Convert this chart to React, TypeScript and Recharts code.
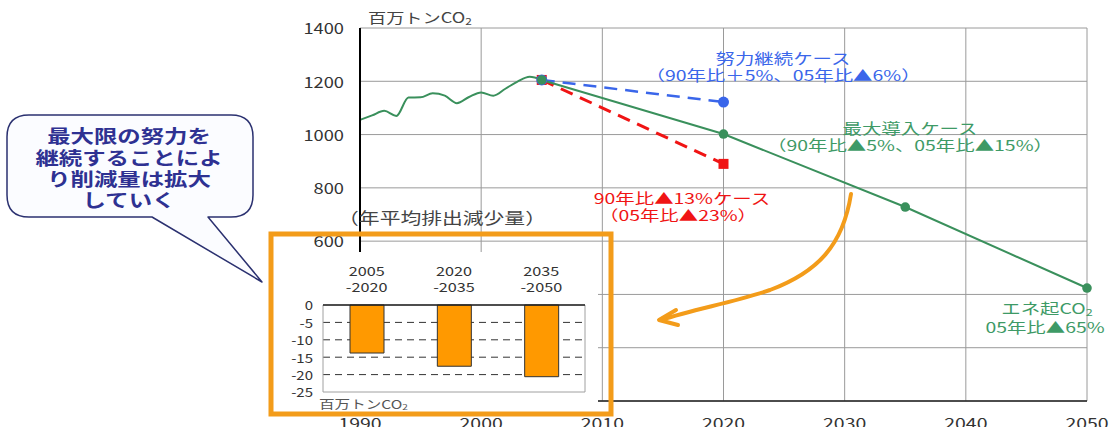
import React from "react";
import {
  LineChart,
  Line,
  XAxis,
  YAxis,
  CartesianGrid,
  BarChart,
  Bar,
  ReferenceLine,
  ReferenceArea,
} from "recharts";

// Energy-related CO2 emissions, actual (Mt-CO2)
const histYears = [1990, 1991, 1992, 1993, 1994, 1995, 1996, 1997, 1998, 1999, 2000, 2001, 2002, 2003, 2004, 2005];
const histValues = [1055, 1072, 1089, 1070, 1139, 1140, 1155, 1146, 1118, 1141, 1158, 1146, 1172, 1199, 1217, 1205];

// Projection cases
const maxYears = [2005, 2020, 2035, 2050];
const maxValues = [1205, 1002, 728, 424];
const effortYears = [2005, 2020];
const effortValues = [1205, 1122];
const cut13Years = [2005, 2020];
const cut13Values = [1205, 890];

// Axis ticks
const xTicks = [1990, 2000, 2010, 2020, 2030, 2040, 2050];
const yTicks = [0, 200, 400, 600, 800, 1000, 1200, 1400];

// Inset: average annual reduction (Mt-CO2 / year)
const periodStart = ["2005", "2020", "2035"];
const periodEnd = ["-2020", "-2035", "-2050"];
const annualReduction = [-13.8, -17.6, -20.6];
const insetTicks = [0, -5, -10, -15, -20, -25];
const insetGrid = [-5, -10, -15, -20];

type Row = { year: number; hist?: number; maxIntro?: number; effort?: number; cut13?: number };

const rowMap = new Map<number, Row>();
const rowFor = (y: number) => {
  if (!rowMap.has(y)) rowMap.set(y, { year: y });
  return rowMap.get(y)!;
};
histYears.forEach((y, i) => (rowFor(y).hist = histValues[i]));
maxYears.forEach((y, i) => (rowFor(y).maxIntro = maxValues[i]));
effortYears.forEach((y, i) => (rowFor(y).effort = effortValues[i]));
cut13Years.forEach((y, i) => (rowFor(y).cut13 = cut13Values[i]));
const mainData = Array.from(rowMap.values()).sort((a, b) => a.year - b.year);

const insetData = periodStart.map((s, i) => ({
  period: `${s}${periodEnd[i]}`,
  start: s,
  end: periodEnd[i],
  value: annualReduction[i],
}));

const FONT = '"Noto Sans CJK JP", "Noto Sans", sans-serif';
const SX = 1.3;

const GREEN = "#3a905c";
const GREEN_TXT = "#3e9a66";
const BLUE = "#3a66ea";
const RED = "#f01414";
const ORANGE = "#f39c1a";

function Txt(props: {
  x: number;
  y: number;
  size: number;
  fill: string;
  anchor?: "start" | "middle" | "end";
  weight?: number | string;
  sx?: number;
  children: React.ReactNode;
}) {
  const { x, y, size, fill, anchor = "middle", weight = 400, sx = SX, children } = props;
  return (
    <text
      transform={`translate(${x},${y}) scale(${sx},1)`}
      textAnchor={anchor}
      dominantBaseline="central"
      fontSize={size}
      fill={fill}
      fontFamily={FONT}
      fontWeight={weight}
    >
      {children}
    </text>
  );
}

const Sub2 = ({ size }: { size: number }) => (
  <tspan fontSize={size * 0.65} dy={size * 0.25}>
    2
  </tspan>
);

const XTick = (props: any) => {
  const { x, payload } = props;
  return (
    <text
      transform={`translate(${x},429) scale(${SX},1)`}
      textAnchor="middle"
      fontSize={15}
      fill="#333"
      fontFamily={FONT}
    >
      {payload.value}
    </text>
  );
};

const YTick = (props: any) => {
  const { y, payload } = props;
  return (
    <text
      transform={`translate(344,${y}) scale(1.22,1)`}
      textAnchor="end"
      dominantBaseline="central"
      fontSize={15}
      fill="#333"
      fontFamily={FONT}
    >
      {payload.value}
    </text>
  );
};

const greenDot = (props: any) => {
  const { cx, cy, payload, index } = props;
  if (payload?.maxIntro == null || cy == null) return <g key={`g${index}`} />;
  return <circle key={`g${index}`} cx={cx} cy={cy} r={4.8} fill={GREEN} />;
};

const blueDot = (props: any) => {
  const { cx, cy, payload, index } = props;
  if (payload?.effort == null || cy == null) return <g key={`b${index}`} />;
  return <circle key={`b${index}`} cx={cx} cy={cy} r={5.5} fill={BLUE} />;
};

const redDot = (props: any) => {
  const { cx, cy, payload, index } = props;
  if (payload?.cut13 == null || cy == null) return <g key={`r${index}`} />;
  return <rect key={`r${index}`} x={cx - 5} y={cy - 5} width={10} height={10} fill={RED} />;
};

const PeriodTick = (props: any) => {
  const { x, payload, index } = props;
  const d = insetData[index] ?? insetData.find((r) => r.period === payload.value);
  return (
    <g>
      <text
        transform={`translate(${x},18) scale(${SX},1)`}
        textAnchor="middle"
        dominantBaseline="central"
        fontSize={12.5}
        fill="#333"
        fontFamily={FONT}
      >
        {d?.start}
      </text>
      <text
        transform={`translate(${x},34) scale(${SX},1)`}
        textAnchor="middle"
        dominantBaseline="central"
        fontSize={12.5}
        fill="#333"
        fontFamily={FONT}
      >
        {d?.end}
      </text>
    </g>
  );
};

const InsetYTick = (props: any) => {
  const { y, payload } = props;
  return (
    <text
      transform={`translate(38,${y}) scale(1.2,1)`}
      textAnchor="end"
      dominantBaseline="central"
      fontSize={12.5}
      fill="#333"
      fontFamily={FONT}
    >
      {payload.value}
    </text>
  );
};

export default function App() {
  return (
    <div
      style={{
        position: "absolute",
        left: 0,
        top: 0,
        width: 1111,
        height: 427,
        background: "#fff",
        overflow: "hidden",
        fontFamily: FONT,
      }}
    >
      <div style={{ position: "absolute", left: 0, top: 0 }}>
        <LineChart width={1111} height={427} data={mainData} margin={{ top: 28, right: 24, bottom: 0, left: 0 }}>
          <CartesianGrid stroke="#9a9a9a" strokeWidth={1} />
          <XAxis
            type="number"
            dataKey="year"
            domain={[1990, 2050]}
            ticks={xTicks}
            height={26}
            tickLine={false}
            axisLine={{ stroke: "#222", strokeWidth: 1.5 }}
            tick={<XTick />}
            interval={0}
          />
          <YAxis
            type="number"
            domain={[0, 1400]}
            ticks={yTicks}
            width={360}
            tickLine={false}
            axisLine={{ stroke: "#000", strokeWidth: 2 }}
            tick={<YTick />}
            interval={0}
          />
          <Line
            dataKey="cut13"
            stroke={RED}
            strokeWidth={3}
            strokeDasharray="13 8"
            connectNulls
            dot={redDot}
            activeDot={false}
            isAnimationActive={false}
          />
          <Line
            dataKey="effort"
            stroke={BLUE}
            strokeWidth={2.5}
            strokeDasharray="13 8"
            connectNulls
            dot={blueDot}
            activeDot={false}
            isAnimationActive={false}
          />
          <Line
            dataKey="hist"
            type="monotone"
            stroke={GREEN}
            strokeWidth={2}
            connectNulls
            dot={false}
            activeDot={false}
            isAnimationActive={false}
          />
          <Line
            dataKey="maxIntro"
            stroke={GREEN}
            strokeWidth={2}
            connectNulls
            dot={greenDot}
            activeDot={false}
            isAnimationActive={false}
          />
        </LineChart>
      </div>

      <svg width={1111} height={427} style={{ position: "absolute", left: 0, top: 0, pointerEvents: "none" }}>
        {/* unit label */}
        <Txt x={368} y={17} size={14} fill="#444" anchor="start">
          百万トンCO
          <Sub2 size={14} />
        </Txt>

        {/* case annotations */}
        <Txt x={783} y={58} size={14.5} fill={BLUE} sx={1.34}>努力継続ケース</Txt>
        <Txt x={783} y={75} size={14.5} fill={BLUE} sx={1.34}>（90年比＋5%、05年比▲6%）</Txt>
        <Txt x={910} y={128} size={14.5} fill={GREEN_TXT} sx={1.34}>最大導入ケース</Txt>
        <Txt x={910} y={145} size={14.5} fill={GREEN_TXT} sx={1.34}>（90年比▲5%、05年比▲15%）</Txt>
        <Txt x={682} y={198} size={14.5} fill={RED} sx={1.34}>90年比▲13%ケース</Txt>
        <Txt x={678} y={215} size={14.5} fill={RED} sx={1.34}>（05年比▲23%）</Txt>
        <Txt x={1047} y={308} size={14.5} fill={GREEN_TXT} sx={1.34}>
          エネ起CO
          <Sub2 size={14.5} />
        </Txt>
        <Txt x={1045} y={327} size={14.5} fill={GREEN_TXT} sx={1.34}>05年比▲65%</Txt>

        <Txt x={442} y={217} size={16} fill="#444">（年平均排出減少量）</Txt>

        {/* callout */}
        <path
          d="M 29 115 H 231 Q 253 115 253 137 V 195 Q 253 217 231 217 H 208 L 262 282 L 152 217 H 29 Q 7 217 7 195 V 137 Q 7 115 29 115 Z"
          fill="#fbfcff"
          stroke="#2b3170"
          strokeWidth={1.5}
          strokeLinejoin="round"
        />
        <Txt x={129} y={135} size={18} fill="#2e3192" weight={700}>最大限の努力を</Txt>
        <Txt x={129} y={157} size={18} fill="#2e3192" weight={700}>継続することによ</Txt>
        <Txt x={129} y={178} size={18} fill="#2e3192" weight={700}>り削減量は拡大</Txt>
        <Txt x={129} y={199} size={18} fill="#2e3192" weight={700}>していく</Txt>

        {/* curved arrow */}
        <path
          d="M 851 194 C 843 245 818 272 770 290 C 735 302 695 309 661 320"
          fill="none"
          stroke={ORANGE}
          strokeWidth={4}
          strokeLinecap="round"
        />
        <path
          d="M 676 310 L 659 320 L 678 325"
          fill="none"
          stroke={ORANGE}
          strokeWidth={4}
          strokeLinecap="round"
          strokeLinejoin="round"
        />
      </svg>

      {/* inset bar chart */}
      <div
        style={{
          position: "absolute",
          left: 275,
          top: 252,
          width: 323,
          height: 159,
          background: "#fff",
        }}
      >
        <BarChart width={323} height={159} data={insetData} margin={{ top: 0, right: 13, bottom: 19, left: 0 }}>
          <CartesianGrid
            vertical={false}
            stroke="#333"
            strokeDasharray="7 5"
            horizontalValues={insetGrid}
          />
          <ReferenceArea y1={-25} y2={0} fill="none" stroke="#a0a0a0" strokeWidth={1} ifOverflow="visible" />
          <XAxis
            dataKey="period"
            orientation="top"
            height={53}
            axisLine={false}
            tickLine={false}
            tick={<PeriodTick />}
            interval={0}
          />
          <YAxis
            type="number"
            domain={[-25, 0]}
            ticks={insetTicks}
            width={48}
            axisLine={false}
            tickLine={false}
            tick={<InsetYTick />}
            interval={0}
          />
          <ReferenceLine y={0} stroke="#222" strokeWidth={1.5} />
          <Bar dataKey="value" barSize={34} fill="#ff9900" stroke="#333" strokeWidth={1} isAnimationActive={false} />
        </BarChart>
      </div>

      <svg width={1111} height={427} style={{ position: "absolute", left: 0, top: 0, pointerEvents: "none" }}>
        <Txt x={319} y={404} size={12} fill="#555" anchor="start">
          百万トンCO
          <Sub2 size={12} />
        </Txt>
        <rect x={271} y={234} width={340} height={180} fill="none" stroke={ORANGE} strokeWidth={5} />
      </svg>
    </div>
  );
}
